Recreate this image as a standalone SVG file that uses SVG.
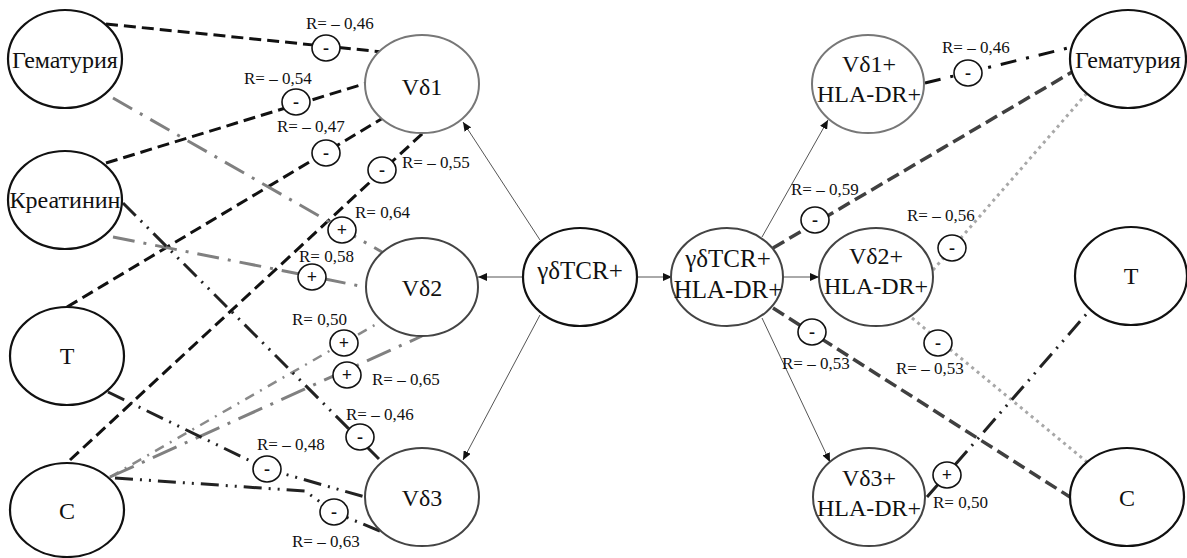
<svg xmlns="http://www.w3.org/2000/svg" width="1187" height="558" viewBox="0 0 1187 558" font-family="'Liberation Serif', 'Times New Roman', 'DejaVu Serif', serif">
<style>
text{font-family:'Liberation Serif','Times New Roman','DejaVu Serif',serif;fill:#111}
.node{fill:#fff;stroke:#111;stroke-width:2.2}
.ng{fill:#fff;stroke:#777;stroke-width:2}
.nd{fill:#fff;stroke:#444;stroke-width:2}
.nt{font-size:24px;text-anchor:middle}
.lab{font-size:17px}
.sgn{fill:#fff;stroke:#111;stroke-width:1.6}
.sg{font-size:18px;text-anchor:middle;font-weight:bold}
.thin{fill:none;stroke:#555;stroke-width:1;marker-end:url(#ah)}
.c{fill:none;stroke-width:3}
.dk{stroke:#111;stroke-dasharray:12 6}
.gd{stroke:#808080;stroke-dasharray:22 9 3 9}
.gd2{stroke:#8a8a8a;stroke-width:2.5;stroke-dasharray:10 7 2 7}
.gl{stroke:#808080;stroke-dasharray:26 9 3 9}
.ddd{stroke:#222;stroke-dasharray:18 7 2 7 2 7}
.dd{stroke:#404040;stroke-width:3.5;stroke-dasharray:13 6}
.lt{stroke:#a8a8a8;stroke-dasharray:3 4}
.bd{stroke:#111;stroke-dasharray:16 10 3 10}
</style>
<defs>
<marker id="ah" markerWidth="9" markerHeight="8" refX="9" refY="4" orient="auto" markerUnits="userSpaceOnUse">
<path d="M0,0 L9,4 L0,8 Z" fill="#111"/>
</marker>
</defs>
<rect width="1187" height="558" fill="#fff"/>
<g id="connectors">
<line class="thin" x1="540" y1="240" x2="463" y2="122"/>
<line class="thin" x1="524" y1="277" x2="478" y2="277"/>
<line class="thin" x1="540" y1="315" x2="463" y2="460"/>
<line class="thin" x1="637" y1="277" x2="672" y2="277"/>
<line class="thin" x1="762" y1="237" x2="828" y2="120"/>
<line class="thin" x1="783" y1="277" x2="819" y2="277"/>
<line class="thin" x1="762" y1="318" x2="830" y2="462"/>
<line class="c dk" x1="106" y1="24" x2="383" y2="52"/>
<line class="c dk" x1="106" y1="163" x2="367" y2="83"/>
<line class="c dk" x1="67" y1="307" x2="383" y2="118"/>
<line class="c dk" x1="70" y1="460" x2="423" y2="133"/>
<line class="c gd" x1="113" y1="98" x2="382" y2="252"/>
<line class="c gd" x1="113" y1="237" x2="365" y2="287"/>
<line class="c gd2" x1="110" y1="477" x2="380" y2="322"/>
<line class="c gl" x1="110" y1="477" x2="422" y2="336"/>
<line class="c ddd" x1="123" y1="203" x2="382" y2="462"/>
<polyline class="c ddd" points="108,392 267,469 365,497"/>
<polyline class="c ddd" points="115,478 305,491 334,512 382,532"/>
<line class="c bd" x1="925" y1="83" x2="1072" y2="47"/>
<line class="c dd" x1="773" y1="248" x2="1072" y2="72"/>
<line class="c lt" x1="933" y1="270" x2="1087" y2="93"/>
<line class="c lt" x1="912" y1="318" x2="1087" y2="462"/>
<line class="c dd" x1="773" y1="308" x2="1070" y2="497"/>
<line class="c ddd" x1="927" y1="497" x2="1090" y2="310"/>
</g>
<g id="n-gem-l"><ellipse class="node" cx="65" cy="59" rx="57" ry="49"/><text class="nt" x="65" y="68">Гематурия</text></g>
<g id="n-kreat"><ellipse class="node" cx="65" cy="200" rx="57" ry="49"/><text class="nt" x="65" y="208">Креатинин</text></g>
<g id="n-t-l"><ellipse class="node" cx="67" cy="356" rx="57" ry="49"/><text class="nt" x="67" y="364">T</text></g>
<g id="n-c-l"><ellipse class="node" cx="67" cy="510" rx="57" ry="47"/><text class="nt" x="67" y="519">C</text></g>
<g id="n-vd1"><ellipse class="ng" cx="422" cy="84" rx="57" ry="49"/><text class="nt" x="422" y="95">Vδ1</text></g>
<g id="n-vd2"><ellipse class="nd" cx="422" cy="287" rx="56" ry="49"/><text class="nt" x="422" y="296">Vδ2</text></g>
<g id="n-vd3"><ellipse class="nd" cx="422" cy="497" rx="57" ry="49"/><text class="nt" x="422" y="506">Vδ3</text></g>
<g id="n-gd"><ellipse class="node" cx="580" cy="277" rx="57" ry="49"/><text class="nt" x="580" y="279" style="font-size:25px">γδTCR+</text></g>
<g id="n-gd-hla"><ellipse class="nd" cx="727" cy="277" rx="56" ry="49"/><text class="nt" x="728" y="267" style="font-size:25px">γδTCR+</text><text class="nt" x="728" y="298" style="font-size:25px">HLA-DR+</text></g>
<g id="n-vd1-hla"><ellipse class="ng" cx="868" cy="84" rx="56" ry="49"/><text class="nt" x="869" y="72">Vδ1+</text><text class="nt" x="869" y="102">HLA-DR+</text></g>
<g id="n-vd2-hla"><ellipse class="nd" cx="876" cy="277" rx="57" ry="49"/><text class="nt" x="876" y="264">Vδ2+</text><text class="nt" x="876" y="294">HLA-DR+</text></g>
<g id="n-vd3-hla"><ellipse class="nd" cx="869" cy="497" rx="56" ry="49"/><text class="nt" x="869" y="486">Vδ3+</text><text class="nt" x="869" y="516">HLA-DR+</text></g>
<g id="n-gem-r"><ellipse class="node" cx="1128" cy="59" rx="58" ry="49"/><text class="nt" x="1128" y="68">Гематурия</text></g>
<g id="n-t-r"><ellipse class="node" cx="1131" cy="276" rx="56" ry="49"/><text class="nt" x="1131" y="284">T</text></g>
<g id="n-c-r"><ellipse class="node" cx="1127" cy="497" rx="57" ry="49"/><text class="nt" x="1127" y="506">C</text></g>
<g id="labels">
<ellipse class="sgn" cx="326" cy="48" rx="14" ry="13"/><text class="sg" x="326" y="54">-</text>
<text class="lab" x="306" y="29">R= – 0,46</text>
<ellipse class="sgn" cx="296" cy="102" rx="14" ry="13"/><text class="sg" x="296" y="108">-</text>
<text class="lab" x="244" y="84">R= – 0,54</text>
<ellipse class="sgn" cx="326" cy="153" rx="14" ry="13"/><text class="sg" x="326" y="159">-</text>
<text class="lab" x="277" y="132">R= – 0,47</text>
<ellipse class="sgn" cx="382" cy="170" rx="14" ry="13"/><text class="sg" x="382" y="176">-</text>
<text class="lab" x="402" y="168">R= – 0,55</text>
<ellipse class="sgn" cx="342" cy="230" rx="14" ry="13"/><text class="sg" x="342" y="236">+</text>
<text class="lab" x="355" y="218">R= 0,64</text>
<ellipse class="sgn" cx="312" cy="277" rx="14" ry="13"/><text class="sg" x="312" y="283">+</text>
<text class="lab" x="299" y="262">R= 0,58</text>
<ellipse class="sgn" cx="344" cy="343" rx="14" ry="13"/><text class="sg" x="344" y="349">+</text>
<text class="lab" x="292" y="325">R= 0,50</text>
<ellipse class="sgn" cx="347" cy="375" rx="14" ry="13"/><text class="sg" x="347" y="381">+</text>
<text class="lab" x="372" y="385">R= – 0,65</text>
<ellipse class="sgn" cx="360" cy="437" rx="14" ry="13"/><text class="sg" x="360" y="443">-</text>
<text class="lab" x="346" y="420">R= – 0,46</text>
<ellipse class="sgn" cx="267" cy="469" rx="14" ry="13"/><text class="sg" x="267" y="475">-</text>
<text class="lab" x="257" y="450">R= – 0,48</text>
<ellipse class="sgn" cx="334" cy="512" rx="14" ry="13"/><text class="sg" x="334" y="518">-</text>
<text class="lab" x="292" y="547">R= – 0,63</text>
<ellipse class="sgn" cx="968" cy="73" rx="14" ry="13"/><text class="sg" x="968" y="79">-</text>
<text class="lab" x="942" y="53">R= – 0,46</text>
<ellipse class="sgn" cx="815" cy="220" rx="14" ry="13"/><text class="sg" x="815" y="226">-</text>
<text class="lab" x="791" y="195">R= – 0,59</text>
<ellipse class="sgn" cx="952" cy="248" rx="14" ry="13"/><text class="sg" x="952" y="254">-</text>
<text class="lab" x="907" y="221">R= – 0,56</text>
<ellipse class="sgn" cx="812" cy="332" rx="14" ry="13"/><text class="sg" x="812" y="338">-</text>
<text class="lab" x="782" y="369">R= – 0,53</text>
<ellipse class="sgn" cx="938" cy="343" rx="14" ry="13"/><text class="sg" x="938" y="349">-</text>
<text class="lab" x="896" y="374">R= – 0,53</text>
<ellipse class="sgn" cx="947" cy="475" rx="14" ry="13"/><text class="sg" x="947" y="481">+</text>
<text class="lab" x="933" y="508">R= 0,50</text>
</g>
</svg>
